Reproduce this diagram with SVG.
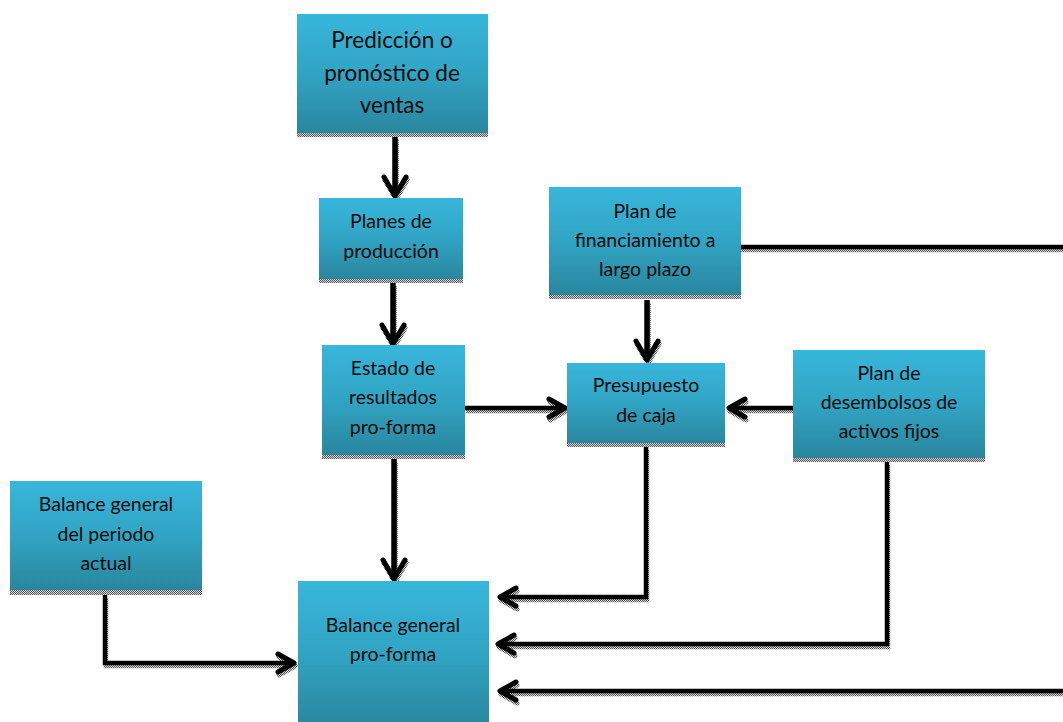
<svg xmlns="http://www.w3.org/2000/svg" width="1063" height="722" viewBox="0 0 1063 722">
<style>
.box{fill:url(#g)}
.sh{fill:url(#dots)}
text{font-family:Lato,"Open Sans","Liberation Sans",sans-serif;fill:#0a0a0a;text-anchor:middle}
.t18{font-size:19.5px}
.t21{font-size:22.5px}
.ln{fill:none;stroke:#000;stroke-linejoin:miter;stroke-linecap:butt}
.lsh{fill:none;stroke:url(#dots);stroke-linecap:butt}
.v{stroke-width:5.5}
.h{stroke-width:4.5}
.hd{fill:none;stroke:#000;stroke-width:5;stroke-linecap:round;stroke-linejoin:round}
.hdsh{fill:none;stroke:url(#dots);stroke-width:5;stroke-linecap:round;stroke-linejoin:round}
</style>
<defs>
<linearGradient id="g" x1="0" y1="0" x2="0" y2="1">
<stop offset="0" stop-color="#38b6db"/>
<stop offset="0.5" stop-color="#31a4c4"/>
<stop offset="1" stop-color="#2a869e"/>
</linearGradient>
<pattern id="dots" width="2" height="2" patternUnits="userSpaceOnUse">
<rect width="2" height="2" fill="#d8d8d8"/>
<rect width="1" height="1" fill="#555"/>
<rect x="1" y="1" width="1" height="1" fill="#555"/>
</pattern>
</defs>
<rect width="1063" height="722" fill="#fff"/>

<g id="connectors">
<g transform="translate(1,3)">
<path class="lsh v" d="M395 136V195"/>
<path class="lsh v" d="M393 283V343"/>
<path class="lsh v" d="M647 300V359"/>
<path class="lsh h" d="M465 408H564"/>
<path class="lsh h" d="M793 408H730"/>
<path class="lsh v" d="M394 459V578"/>
<path class="lsh h" d="M646 447V597H501"/>
<path class="lsh h" d="M887 462V644H499"/>
<path class="lsh h" d="M740 247H1063"/>
<path class="lsh h" d="M1063 691H501"/>
<path class="lsh h" d="M105 595V663H293"/>
<path class="hdsh" d="M384 177L395 196L406 177"/>
<path class="hdsh" d="M382 325L393 344L404 325"/>
<path class="hdsh" d="M636 341L647 360L658 341"/>
<path class="hdsh" d="M383 560L394 579L405 560"/>
<path class="hdsh" d="M549 399L565 408L549 417"/>
<path class="hdsh" d="M745 399L729 408L745 417"/>
<path class="hdsh" d="M516 588L500 597L516 606"/>
<path class="hdsh" d="M514 635L498 644L514 653"/>
<path class="hdsh" d="M516 682L500 691L516 700"/>
<path class="hdsh" d="M278 654L294 663L278 672"/>
</g>
<path class="ln v" d="M395 136V195"/>
<path class="ln v" d="M393 283V343"/>
<path class="ln v" d="M647 300V359"/>
<path class="ln h" d="M465 408H564"/>
<path class="ln h" d="M793 408H730"/>
<path class="ln v" d="M394 459V578"/>
<path class="ln h" d="M646 447V597H501"/>
<path class="ln h" d="M887 462V644H499"/>
<path class="ln h" d="M740 247H1063"/>
<path class="ln h" d="M1063 691H501"/>
<path class="ln h" d="M105 595V663H293"/>
<path class="hd" d="M384 177L395 196L406 177"/>
<path class="hd" d="M382 325L393 344L404 325"/>
<path class="hd" d="M636 341L647 360L658 341"/>
<path class="hd" d="M383 560L394 579L405 560"/>
<path class="hd" d="M549 399L565 408L549 417"/>
<path class="hd" d="M745 399L729 408L745 417"/>
<path class="hd" d="M516 588L500 597L516 606"/>
<path class="hd" d="M514 635L498 644L514 653"/>
<path class="hd" d="M516 682L500 691L516 700"/>
<path class="hd" d="M278 654L294 663L278 672"/>
</g>

<g id="prediccion">
<rect class="sh" x="297" y="133" width="191" height="4"/>
<rect class="box" x="297" y="14" width="191" height="119"/>
<text class="t21" x="392" y="48">Predicción o</text>
<text class="t21" x="392" y="81">pronóstico de</text>
<text class="t21" x="392" y="113">ventas</text>
</g>

<g id="planes">
<rect class="sh" x="319" y="279" width="144" height="4"/>
<rect class="box" x="319" y="198" width="144" height="81"/>
<text class="t18" x="391" y="228">Planes de</text>
<text class="t18" x="391" y="258">producción</text>
</g>

<g id="financiamiento">
<rect class="sh" x="549" y="295" width="192" height="4"/>
<rect class="box" x="549" y="187" width="192" height="108"/>
<text class="t18" x="645" y="218">Plan de</text>
<text class="t18" x="645" y="247">financiamiento a</text>
<text class="t18" x="645" y="276">largo plazo</text>
</g>

<g id="estado">
<rect class="sh" x="322" y="455" width="143" height="4"/>
<rect class="box" x="322" y="345" width="143" height="110"/>
<text class="t18" x="393" y="375">Estado de</text>
<text class="t18" x="393" y="404">resultados</text>
<text class="t18" x="393" y="434">pro-forma</text>
</g>

<g id="presupuesto">
<rect class="sh" x="567" y="443" width="158" height="4"/>
<rect class="box" x="567" y="363" width="158" height="80"/>
<text class="t18" x="646" y="392">Presupuesto</text>
<text class="t18" x="646" y="422">de caja</text>
</g>

<g id="desembolsos">
<rect class="sh" x="793" y="458" width="192" height="4"/>
<rect class="box" x="793" y="350" width="192" height="108"/>
<text class="t18" x="889" y="380">Plan de</text>
<text class="t18" x="889" y="409">desembolsos de</text>
<text class="t18" x="889" y="438">activos fijos</text>
</g>

<g id="balance-actual">
<rect class="sh" x="10" y="590" width="192" height="5"/>
<rect class="box" x="10" y="481" width="192" height="109"/>
<text class="t18" x="106" y="511">Balance general</text>
<text class="t18" x="106" y="541">del periodo</text>
<text class="t18" x="106" y="570">actual</text>
</g>

<g id="balance-proforma">
<rect class="box" x="298" y="581" width="191" height="145"/>
<text class="t18" x="393" y="632">Balance general</text>
<text class="t18" x="393" y="661">pro-forma</text>
</g>
</svg>
